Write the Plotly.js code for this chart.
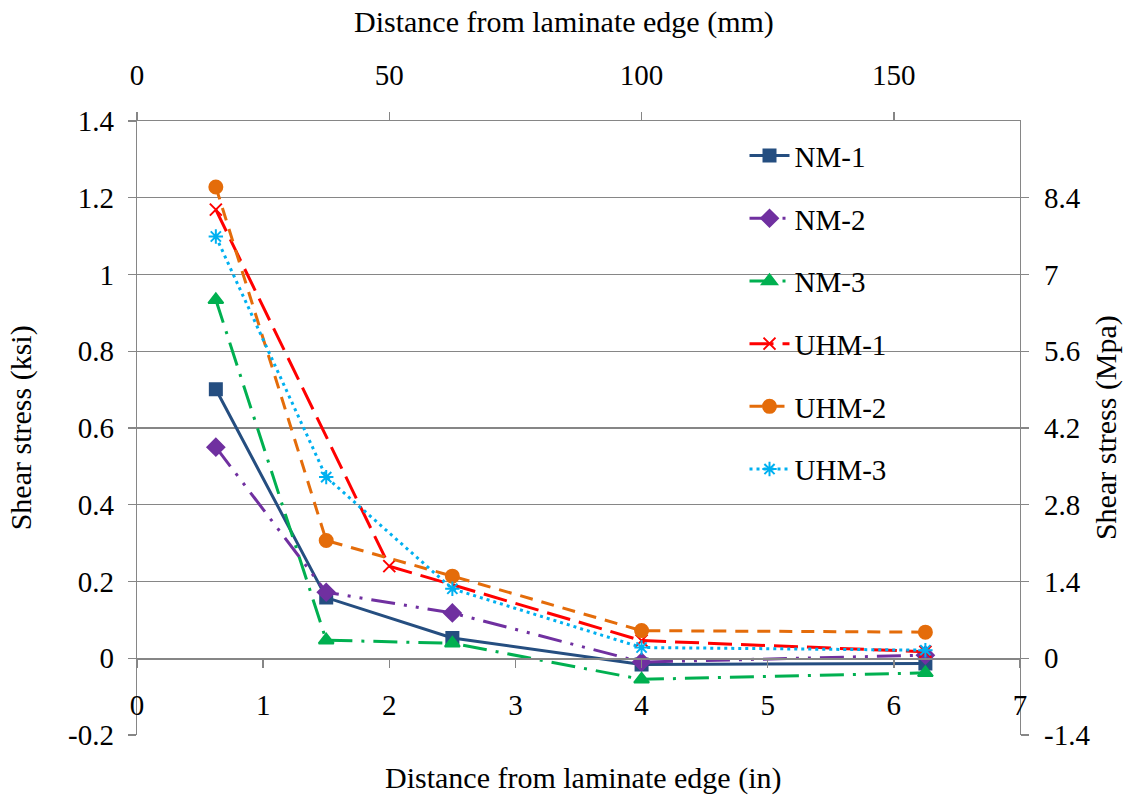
<!DOCTYPE html>
<html>
<head>
<meta charset="utf-8">
<script src="https://cdn.plot.ly/plotly-3.0.1.min.js"></script>
<style>html,body{margin:0;padding:0;background:#fff;}#chart{width:1133px;height:798px;}</style>
</head>
<body>
<div id="chart"></div>
<script>
// Distance from laminate edge (in)
const xNM = [0.625, 1.5, 2.5, 4, 6.25];
const xUHM1 = [0.625, 2, 4, 6.25];
// Shear stress (ksi)
const nm1 = [0.701, 0.158, 0.053, -0.016, -0.014];
const nm2 = [0.55, 0.172, 0.118, -0.01, 0.008];
const nm3 = [0.934, 0.047, 0.039, -0.055, -0.038];
const uhm1 = [1.169, 0.24, 0.046, 0.017];
const uhm2 = [1.228, 0.307, 0.214, 0.072, 0.068];
const uhm3 = [1.099, 0.472, 0.181, 0.028, 0.021];

const seriesNames = ['NM-1', 'NM-2', 'NM-3', 'UHM-1', 'UHM-2', 'UHM-3'];
const bottomTicks = [0, 1, 2, 3, 4, 5, 6, 7];
const topTicks = [0, 50, 100, 150];
const leftTicks = [-0.2, 0, 0.2, 0.4, 0.6, 0.8, 1, 1.2, 1.4];
const rightTicks = [-1.4, 0, 1.4, 2.8, 4.2, 5.6, 7, 8.4];
const rightTickText = ['-1.4', '0', '1.4', '2.8', '4.2', '5.6', '7', '8.4'];

const FONT = '"Liberation Serif", "Times New Roman", serif';
const GRAY = '#868686';

function tr(name, x, y, color, dash, symbol, msize, group) {
  return {
    type: 'scatter', mode: 'lines+markers', name: name, x: x, y: y,
    xaxis: 'x', yaxis: 'y', legendgroup: group,
    line: {color: color, width: 3, dash: dash},
    marker: {symbol: symbol, size: msize, color: color, line: {color: color, width: 2}},
    cliponaxis: false
  };
}

const data = [
  tr(seriesNames[0], xNM, nm1, '#254E80', 'solid', 'square', 12, 'g1'),
  tr(seriesNames[1], xNM, nm2, '#7030A0', '24px,9px,3px,9px,3px,9px', 'diamond', 13, 'g2'),
  tr(seriesNames[2], xNM, nm3, '#00B050', '24px,9px,3px,9px', 'triangle-up', 13, 'g3'),
  tr(seriesNames[3], xUHM1, uhm1, '#FF0000', '24px,9px', 'x-thin-open', 12, 'g4'),
  tr(seriesNames[4], xNM, uhm2, '#E46C0A', '13px,9px', 'circle', 13, 'g5'),
  tr(seriesNames[5], xNM, uhm3, '#00B0F0', '3px,4px', 'asterisk-open', 12, 'g6'),
  // empty helper traces so the secondary (mm / MPa) axes are drawn
  {type: 'scatter', mode: 'lines', x: [], y: [], xaxis: 'x2', yaxis: 'y', showlegend: false, hoverinfo: 'skip'},
  {type: 'scatter', mode: 'lines', x: [], y: [], xaxis: 'x', yaxis: 'y2', showlegend: false, hoverinfo: 'skip'}
];

const tickFont = {family: FONT, size: 29, color: '#000'};
const titleFont = {family: FONT, size: 30, color: '#000'};

const layout = {
  width: 1133, height: 798,
  margin: {l: 137, r: 113, t: 121, b: 63},
  paper_bgcolor: '#fff', plot_bgcolor: '#fff',
  font: {family: FONT, size: 29, color: '#000'},
  showlegend: true,
  legend: {
    x: 0.688, y: 0.985, xanchor: 'left', yanchor: 'top',
    font: {family: FONT, size: 29, color: '#000'},
    tracegroupgap: 22, bgcolor: 'rgba(0,0,0,0)', itemwidth: 40
  },
  xaxis: {
    range: [0, 7], tickvals: bottomTicks, ticktext: bottomTicks.map(String),
    anchor: 'free', position: 0.125,
    showline: true, linecolor: GRAY, linewidth: 1.3,
    ticks: 'outside', ticklen: 8, tickcolor: GRAY, tickwidth: 1.3,
    showgrid: false, zeroline: false, tickfont: tickFont, ticklabelstandoff: 13
  },
  xaxis2: {
    range: [0, 175], tickvals: topTicks, ticktext: topTicks.map(String),
    overlaying: 'x', side: 'top', anchor: 'y',
    showline: true, linecolor: GRAY, linewidth: 1.3,
    ticks: 'outside', ticklen: 8, tickcolor: GRAY, tickwidth: 1.3,
    showgrid: false, zeroline: false, tickfont: tickFont, ticklabelstandoff: 15
  },
  yaxis: {
    range: [-0.2, 1.4], tickvals: leftTicks, ticktext: leftTicks.map(String),
    showline: true, linecolor: GRAY, linewidth: 1.3,
    ticks: 'outside', ticklen: 8, tickcolor: GRAY, tickwidth: 1.3,
    showgrid: true, gridcolor: GRAY, gridwidth: 1.3,
    zeroline: false, tickfont: tickFont, ticklabelstandoff: 8
  },
  yaxis2: {
    range: [-1.4, 9.8], tickvals: rightTicks, ticktext: rightTickText,
    overlaying: 'y', side: 'right', anchor: 'x',
    showline: true, linecolor: GRAY, linewidth: 1.3,
    ticks: 'outside', ticklen: 8, tickcolor: GRAY, tickwidth: 1.3,
    showgrid: false, zeroline: false, tickfont: tickFont, ticklabelstandoff: 9
  },
  annotations: [
    {text: 'Distance from laminate edge (in)', xref: 'paper', yref: 'paper', x: 0.506, y: -0.07, showarrow: false, font: titleFont, xanchor: 'center', yanchor: 'middle'},
    {text: 'Distance from laminate edge (mm)', xref: 'paper', yref: 'paper', x: 0.484, y: 1.161, showarrow: false, font: titleFont, xanchor: 'center', yanchor: 'middle'},
    {text: 'Shear stress (ksi)', xref: 'paper', yref: 'paper', x: -0.131, y: 0.5, textangle: -90, showarrow: false, font: titleFont, xanchor: 'center', yanchor: 'middle'},
    {text: 'Shear stress (Mpa)', xref: 'paper', yref: 'paper', x: 1.0975, y: 0.5, textangle: -90, showarrow: false, font: titleFont, xanchor: 'center', yanchor: 'middle'}
  ]
};

Plotly.newPlot('chart', data, layout, {displayModeBar: false, staticPlot: true});
</script>
</body>
</html>
